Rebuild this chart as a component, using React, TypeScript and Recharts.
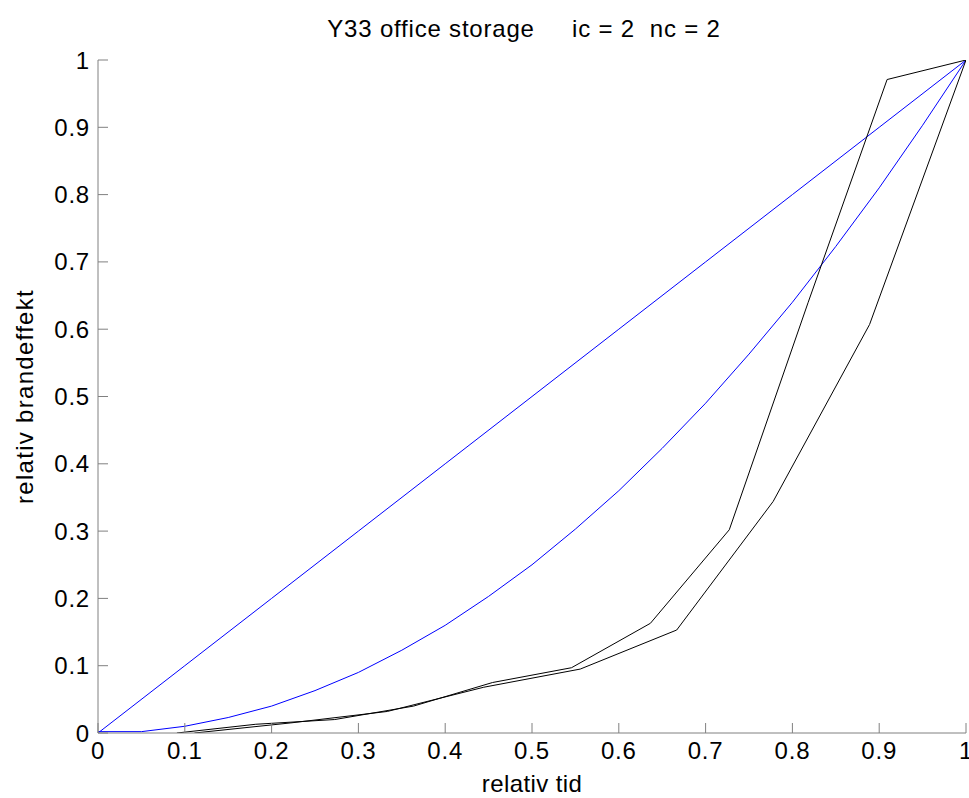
import React from 'react';
import { LineChart, Line, XAxis, YAxis } from 'recharts';

const TITLE = 'Y33 office storage     ic = 2  nc = 2';
const X_LABEL = 'relativ tid';
const Y_LABEL = 'relativ brandeffekt';

const X_TICKS = [0, 0.1, 0.2, 0.3, 0.4, 0.5, 0.6, 0.7, 0.8, 0.9, 1];
const Y_TICKS = [0, 0.1, 0.2, 0.3, 0.4, 0.5, 0.6, 0.7, 0.8, 0.9, 1];

// blue straight reference line
const linX = [0, 0.1, 0.2, 0.3, 0.4, 0.5, 0.6, 0.7, 0.8, 0.9, 1];
const linY = [0, 0.1, 0.2, 0.3, 0.4, 0.5, 0.6, 0.7, 0.8, 0.9, 1];

// blue curved reference line
const curveX = [0, 0.05, 0.1, 0.15, 0.2, 0.25, 0.3, 0.35, 0.4, 0.45, 0.5, 0.55, 0.6, 0.65, 0.7, 0.75, 0.8, 0.85, 0.9, 0.95, 1];
const curveY = [0.002, 0.002, 0.01, 0.023, 0.04, 0.063, 0.09, 0.123, 0.16, 0.203, 0.25, 0.303, 0.36, 0.423, 0.49, 0.563, 0.64, 0.723, 0.81, 0.903, 1];

// black measured line A
const aX = [0.0909, 0.1818, 0.2727, 0.3636, 0.4545, 0.5455, 0.6364, 0.7273, 0.8182, 0.9091, 1];
const aY = [0, 0.013, 0.02, 0.04, 0.075, 0.097, 0.163, 0.302, 0.64, 0.971, 1];

// black measured line B
const bX = [0.1111, 0.2222, 0.3333, 0.4444, 0.5556, 0.6667, 0.7778, 0.8889, 1];
const bY = [0, 0.015, 0.032, 0.068, 0.095, 0.153, 0.344, 0.607, 1];

const zip = (xs: number[], ys: number[]) => xs.map((x, i) => ({ x, y: ys[i] }));

const FONT = 'Arial, "Liberation Sans", Helvetica, sans-serif';
const AXIS_COLOR = '#808080';
const TICK_MARGIN = 9;
const TICK_LEN = 10;
const FS = 24;
const LS = 0.8;

const fmt = (v: number) => String(Number(v.toFixed(1)));

const XTick = (props: any) => {
  const { x, y, payload } = props;
  const ay = y - TICK_MARGIN;
  return (
    <g>
      <line x1={x} y1={ay} x2={x} y2={ay - TICK_LEN} stroke={AXIS_COLOR} />
      <text x={x} y={y} dy="0.71em" textAnchor="middle" fontSize={FS} fontFamily={FONT} letterSpacing={LS} fill="#000">
        {fmt(payload.value)}
      </text>
    </g>
  );
};

const Y_MARGIN = 8;
const YTick = (props: any) => {
  const { x, y, payload } = props;
  const ax = x + Y_MARGIN;
  return (
    <g>
      <line x1={ax} y1={y} x2={ax + TICK_LEN} y2={y} stroke={AXIS_COLOR} />
      <text x={x} y={y} dy="0.355em" textAnchor="end" fontSize={FS} fontFamily={FONT} letterSpacing={LS} fill="#000">
        {fmt(payload.value)}
      </text>
    </g>
  );
};

const YLabel = (props: any) => {
  const vb = props.viewBox || {};
  const cx = vb.x + 24;
  const cy = vb.y + vb.height / 2;
  return (
    <text x={cx} y={cy} transform={`rotate(-90 ${cx} ${cy})`} dy="0.355em" textAnchor="middle" fontSize={FS} fontFamily={FONT} letterSpacing={1.3} fill="#000">
      {Y_LABEL}
    </text>
  );
};

const XLabel = (props: any) => {
  const vb = props.viewBox || {};
  const cx = vb.x + vb.width / 2;
  const cy = vb.y + 59;
  return (
    <text x={cx} y={cy} textAnchor="middle" fontSize={FS} fontFamily={FONT} letterSpacing={0.4} fill="#000">
      {X_LABEL}
    </text>
  );
};

export default function App() {
  return (
    <div style={{ position: 'absolute', left: 0, top: 0, width: 969, height: 798, background: '#fff', overflow: 'hidden' }}>
      <LineChart width={969} height={798} margin={{ top: 60, right: 3, left: 0, bottom: 35 }}>
        <XAxis
          type="number"
          dataKey="x"
          domain={[0, 1]}
          ticks={X_TICKS}
          interval={0}
          allowDataOverflow
          height={30}
          stroke={AXIS_COLOR}
          tickLine={false}
          tickSize={0}
          tickMargin={TICK_MARGIN}
          tick={<XTick />}
          label={<XLabel />}
        />
        <YAxis
          type="number"
          dataKey="y"
          domain={[0, 1]}
          ticks={Y_TICKS}
          interval={0}
          allowDataOverflow
          width={98}
          stroke={AXIS_COLOR}
          tickLine={false}
          tickSize={0}
          tickMargin={Y_MARGIN}
          tick={<YTick />}
          label={<YLabel />}
        />
        <Line data={zip(linX, linY)} dataKey="y" type="linear" stroke="#0000ff" strokeWidth={1} dot={false} isAnimationActive={false} />
        <Line data={zip(curveX, curveY)} dataKey="y" type="linear" stroke="#0000ff" strokeWidth={1} dot={false} isAnimationActive={false} />
        <Line data={zip(aX, aY)} dataKey="y" type="linear" stroke="#000" strokeWidth={1} dot={false} isAnimationActive={false} />
        <Line data={zip(bX, bY)} dataKey="y" type="linear" stroke="#000" strokeWidth={1} dot={false} isAnimationActive={false} />
      </LineChart>
      <svg width={969} height={60} style={{ position: 'absolute', left: 0, top: 0, pointerEvents: 'none' }}>
        <text x={524} y={37} textAnchor="middle" fontSize={FS} fontFamily={FONT} letterSpacing={LS} fill="#000" style={{ whiteSpace: 'pre' }}>
          {TITLE}
        </text>
      </svg>
    </div>
  );
}
